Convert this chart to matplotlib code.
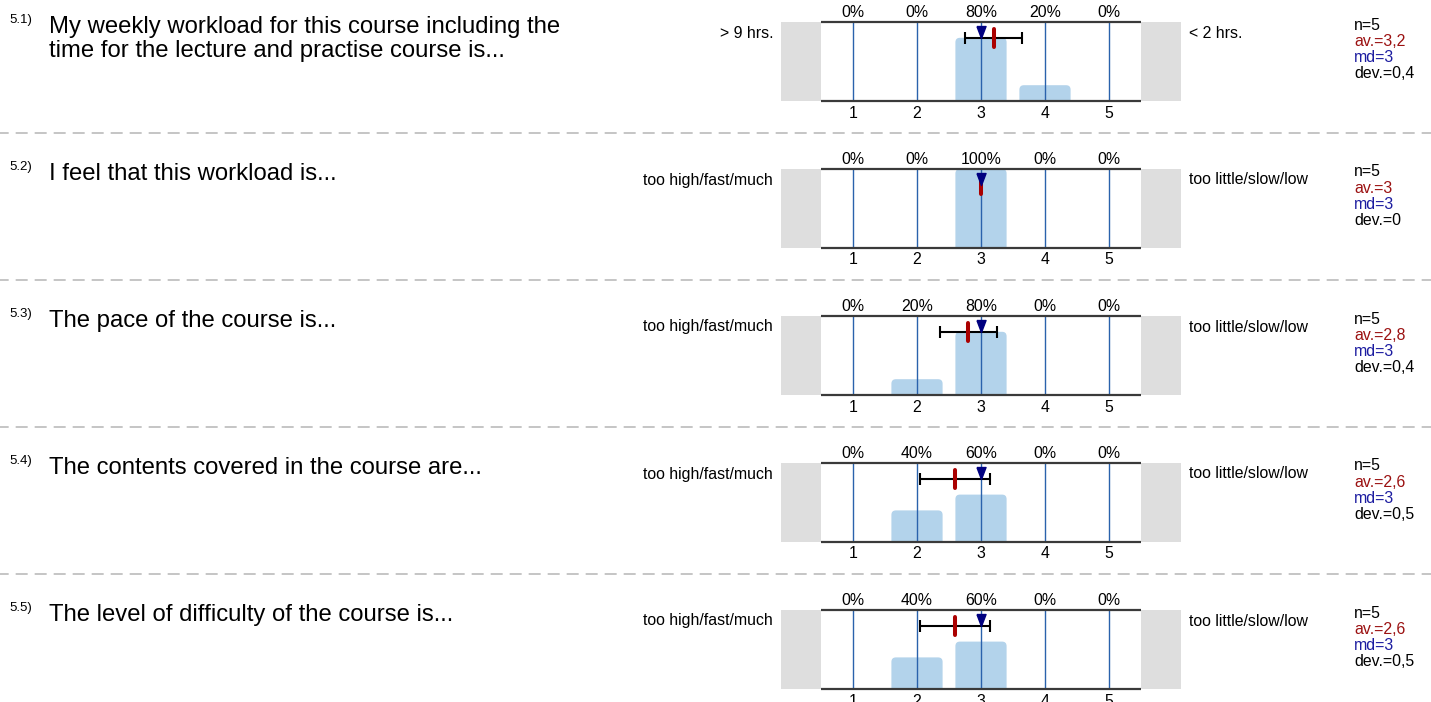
import matplotlib
matplotlib.use("Agg")
import matplotlib.pyplot as plt
from matplotlib.patches import FancyBboxPatch
from matplotlib.transforms import offset_copy

plt.rcParams['font.family'] = ['Liberation Sans', 'DejaVu Sans']

# ---- data ----
numbers = ['5.1)', '5.2)', '5.3)', '5.4)', '5.5)']
questions = ['My weekly workload for this course including the\ntime for the lecture and practise course is...',
             'I feel that this workload is...',
             'The pace of the course is...',
             'The contents covered in the course are...',
             'The level of difficulty of the course is...']
left_labels = ['> 9 hrs.', 'too high/fast/much', 'too high/fast/much', 'too high/fast/much', 'too high/fast/much']
right_labels = ['< 2 hrs.', 'too little/slow/low', 'too little/slow/low', 'too little/slow/low', 'too little/slow/low']
cats = [1, 2, 3, 4, 5]
pcts = [[0, 0, 80, 20, 0],
        [0, 0, 100, 0, 0],
        [0, 20, 80, 0, 0],
        [0, 40, 60, 0, 0],
        [0, 40, 60, 0, 0]]
n_vals = [5, 5, 5, 5, 5]
means = [3.2, 3.0, 2.8, 2.6, 2.6]
medians = [3, 3, 3, 3, 3]
devs = [0.447, 0.0, 0.447, 0.548, 0.548]

W, H = 1431, 702
fig = plt.figure(figsize=(W / 100, H / 100), dpi=100)

# background axes in pixel coordinates for the free text
bg = fig.add_axes([0, 0, 1, 1])
bg.set_xlim(0, W)
bg.set_ylim(H, 0)
bg.axis('off')


def fmt(v):
    s = '{:.1f}'.format(v).rstrip('0').rstrip('.')
    return s.replace('.', ',')


tri = [(-0.38, 0.5), (0.38, 0.5), (0, -0.5), (-0.38, 0.5)]
fs = 11.4

for i in range(len(questions)):
    T = 22 + 147 * i      # top line of the panel (px)
    B = T + 79            # bottom line (px)

    # question number + text
    bg.text(9, T - 2, numbers[i], fontsize=9.5, va='center', ha='left')
    for k, line in enumerate(questions[i].split('\n')):
        bg.text(49, T + 11.5 + 24 * k, line, fontsize=17.2, va='baseline', ha='left')

    bg.text(773, T + 11, left_labels[i], fontsize=fs, va='center', ha='right')
    bg.text(1189, T + 11, right_labels[i], fontsize=fs, va='center', ha='left')

    # stats
    stats = [('n=%d' % n_vals[i], 'black'),
             ('av.=' + fmt(means[i]), '#9b1111'),
             ('md=' + fmt(medians[i]), '#1c1ca0'),
             ('dev.=' + fmt(devs[i]), 'black')]
    for k, (s, c) in enumerate(stats):
        bg.text(1354, T + 3 + 16.2 * k, s, fontsize=fs, color=c, va='center', ha='left')

    if i < len(questions) - 1:
        bg.plot([0, W], [T + 110.5, T + 110.5], color='#bbbbbb', lw=1.2,
                linestyle=(2, (7.2, 4.2)))

    # the panel itself
    ax = fig.add_axes([781 / W, 1 - B / H, 400 / W, 79 / H])
    ax.set_xlim(-0.125, 6.125)
    ax.set_ylim(0, 100)
    ax.axis('off')

    ax.axvspan(-0.125, 0.5, color='#dedede', lw=0)
    ax.axvspan(5.5, 6.125, color='#dedede', lw=0)

    for c, p in zip(cats, pcts[i]):
        if p > 0:
            ax.add_patch(FancyBboxPatch((c - 0.4, -8), 0.8, p + 8,
                                        boxstyle='round,pad=0,rounding_size=0.07',
                                        mutation_aspect=81, fc='#b3d3eb', ec='none', zorder=1))

    ax.vlines(cats, 0, 100, color='#2a62ac', lw=1.0, zorder=2)
    ax.hlines([0, 100], 0.5, 5.5, color='#3a3a3a', lw=1.6, zorder=3, clip_on=False)

    ax.errorbar(means[i], 80, xerr=devs[i], color='black', lw=1.5, capsize=4,
                capthick=1.5, zorder=4)
    ax.plot([means[i], means[i]], [80 - 11.4, 80 + 11.4], color='#aa0000', lw=2.9,
            solid_capstyle='round', zorder=5)
    ax.plot(medians[i], 87.3, marker=tri, color='#000080', ms=8.6, ls='none', zorder=6)

    top_tr = offset_copy(ax.get_xaxis_transform(), fig=fig, y=9.5, units='dots')
    bot_tr = offset_copy(ax.get_xaxis_transform(), fig=fig, y=-12, units='dots')
    for c, p in zip(cats, pcts[i]):
        ax.text(c, 1, '%d%%' % p, transform=top_tr, fontsize=fs, ha='center', va='center')
        ax.text(c, 0, str(c), transform=bot_tr, fontsize=fs, ha='center', va='center')

fig.savefig('out.png', dpi=100)
